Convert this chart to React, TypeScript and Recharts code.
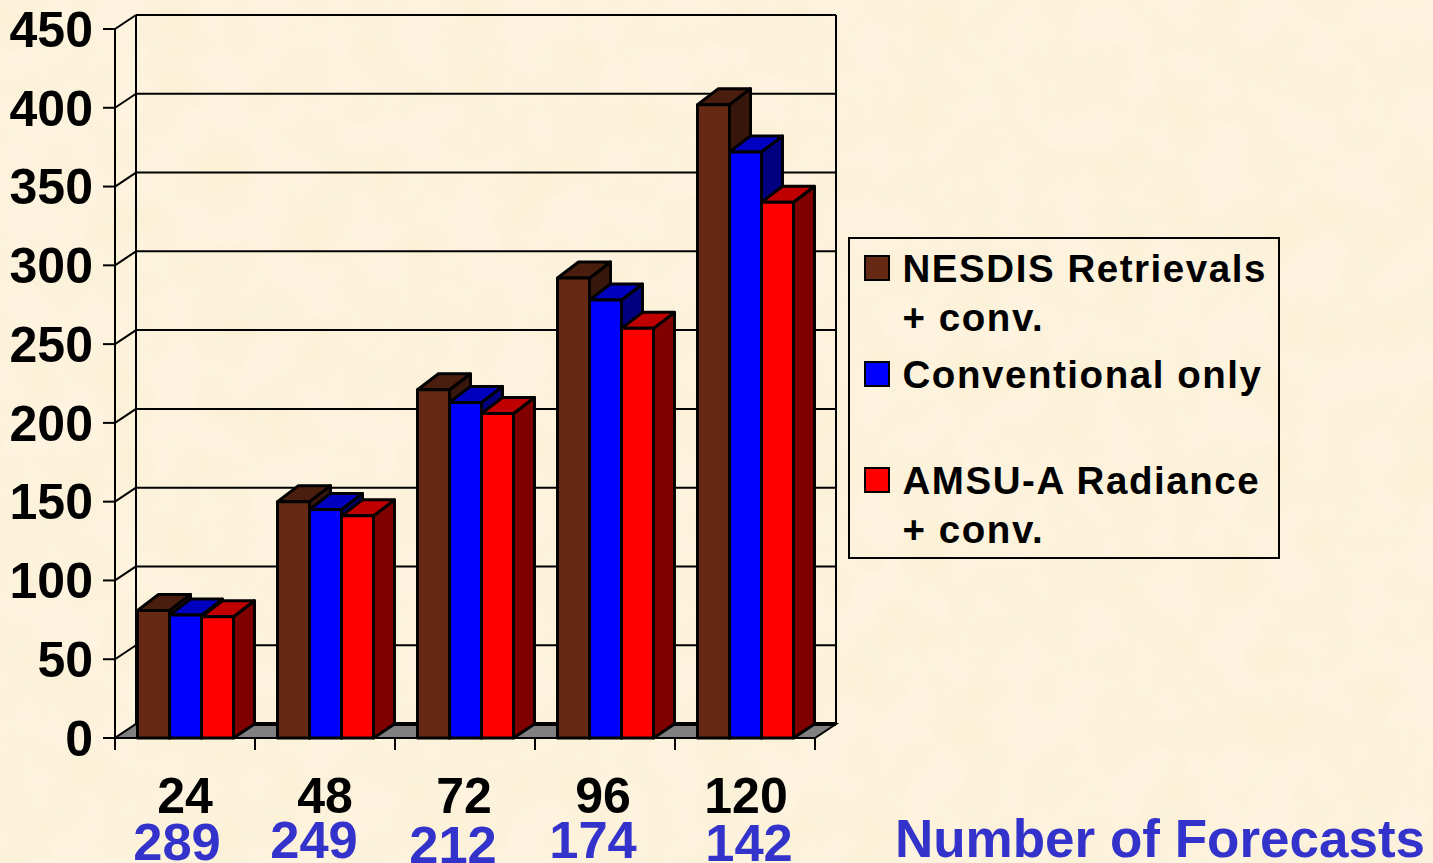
import { BarChart, Bar, XAxis, YAxis, CartesianGrid, Legend, ReferenceLine } from 'recharts';

const hours = ['24', '48', '72', '96', '120'];
const forecastCounts = ['289', '249', '212', '174', '142'];
const nesdis = [81, 150, 221, 292, 402];
const conventional = [78, 145, 213, 278, 372];
const amsu = [77, 141, 206, 260, 340];
const yTicks = [0, 50, 100, 150, 200, 250, 300, 350, 400, 450];

const chartData = hours.map((hour, i) => ({
  hour,
  nesdis: nesdis[i],
  conventional: conventional[i],
  amsu: amsu[i],
}));

const legendRows = [
  { lines: ['NESDIS Retrievals', '+ conv.'], color: '#662A14' },
  { lines: ['Conventional only', '\u00A0'], color: '#0000FF' },
  { lines: ['AMSU-A Radiance', '+ conv.'], color: '#FF0000' },
];

// hand nudges for the x labels, they are not evenly placed in the slide
const hourNudge = [0, 0, -1, -2, 1];
const countNudge = [
  { dx: -8, dy: 0 },
  { dx: -11, dy: -2 },
  { dx: -12, dy: 3 },
  { dx: -12, dy: -2 },
  { dx: 4, dy: 1 },
];

const FONT = '"Liberation Sans", Arial, sans-serif';
const DEPTH_X = 21;
const DEPTH_Y = 14;
const BAR_TOP_DEPTH_Y = 16;
const WALL_HEIGHT = 709;
const CATEGORY_WIDTH = 140;

const makeBarShape = (topColor: string, sideColor: string) => (props: any) => {
  const { x, y, width, height, fill } = props;
  const r = x + width;
  const b = y + height;
  const topY = y - BAR_TOP_DEPTH_Y;
  return (
    <g stroke="#000" strokeWidth={3} strokeLinejoin="round">
      <polygon
        points={`${r},${y} ${r + DEPTH_X},${topY} ${r + DEPTH_X},${b - DEPTH_Y} ${r},${b}`}
        fill={sideColor}
      />
      <polygon
        points={`${x},${y} ${x + DEPTH_X},${topY} ${r + DEPTH_X},${topY} ${r},${y}`}
        fill={topColor}
      />
      <rect x={x} y={y} width={width} height={height} fill={fill} />
    </g>
  );
};

const GridLine = (props: any) => {
  const { x1, x2, y1 } = props;
  return (
    <g stroke="#000" strokeWidth={2}>
      <line x1={x1} y1={y1} x2={x1 + DEPTH_X} y2={y1 - DEPTH_Y} />
      <line x1={x1 + DEPTH_X} y1={y1 - DEPTH_Y} x2={x2 + DEPTH_X} y2={y1 - DEPTH_Y} />
    </g>
  );
};

const WallFrame = (props: any) => {
  const { x1, x2, y1 } = props;
  const backY = y1 - DEPTH_Y;
  return (
    <g>
      <polygon
        points={`${x1},${y1} ${x1 + DEPTH_X},${backY} ${x2 + DEPTH_X},${backY} ${x2},${y1}`}
        fill="#808080"
        stroke="#000"
        strokeWidth={2}
      />
      <line x1={x1 + DEPTH_X} y1={backY} x2={x2 + DEPTH_X} y2={backY} stroke="#000" strokeWidth={4} />
      <line x1={x1 + DEPTH_X} y1={backY} x2={x1 + DEPTH_X} y2={backY - WALL_HEIGHT} stroke="#000" strokeWidth={2} />
      <line x1={x2 + DEPTH_X} y1={backY} x2={x2 + DEPTH_X} y2={backY - WALL_HEIGHT} stroke="#000" strokeWidth={2} />
    </g>
  );
};

const HourTick = (props: any) => {
  const { x, y, index, payload } = props;
  const nudge = countNudge[index];
  const left = x - CATEGORY_WIDTH / 2;
  return (
    <g fontFamily={FONT} fontWeight={700} textAnchor="middle">
      {/* tick marks sit between the categories */}
      <line x1={left} y1={y - 12} x2={left} y2={y} stroke="#000" strokeWidth={2} />
      {index === hours.length - 1 && (
        <line x1={left + CATEGORY_WIDTH} y1={y - 12} x2={left + CATEGORY_WIDTH} y2={y} stroke="#000" strokeWidth={2} />
      )}
      <text x={x + hourNudge[index]} y={y + 63} fill="#000" fontSize={50}>
        {payload.value}
      </text>
      <text x={x + nudge.dx} y={y + 110 + nudge.dy} fill="#3333CC" fontSize={52.5}>
        {forecastCounts[index]}
      </text>
    </g>
  );
};

const LegendBox = () => (
  <div
    style={{
      boxSizing: 'border-box',
      width: 432,
      height: 322,
      border: '2px solid #000',
      paddingTop: 5,
      fontFamily: FONT,
      fontWeight: 700,
      fontSize: 38.5,
      letterSpacing: 1.55,
      color: '#000',
    }}
  >
    {legendRows.map((row) => (
      <div key={row.lines[0]} style={{ position: 'relative', height: 106, paddingLeft: 52.5 }}>
        <span
          style={{
            position: 'absolute',
            left: 14,
            top: 11,
            width: 26,
            height: 26,
            boxSizing: 'border-box',
            border: '2px solid #000',
            background: row.color,
          }}
        />
        {row.lines.map((line, i) => (
          <div key={i} style={{ lineHeight: '49px', whiteSpace: 'nowrap' }}>
            {line}
          </div>
        ))}
      </div>
    ))}
  </div>
);

export default function App() {
  return (
    <div style={{ position: 'absolute', left: 0, top: 0, width: 1433, height: 863, overflow: 'hidden', background: '#FDF3DE' }}>
      {/* parchment slide background */}
      <svg width={1433} height={863} style={{ position: 'absolute', left: 0, top: 0 }}>
        <filter id="parchment" x="0" y="0" width="100%" height="100%">
          <feTurbulence type="fractalNoise" baseFrequency="0.02" numOctaves={3} seed={4} />
          <feColorMatrix
            type="matrix"
            values="0 0 0 0 0.96  0 0 0 0 0.88  0 0 0 0 0.68  2.6 0 0 0 -1.0"
          />
        </filter>
        <rect width={1433} height={863} filter="url(#parchment)" />
      </svg>
      <div style={{ position: 'absolute', left: 0, top: 0 }}>
        <BarChart
          width={1433}
          height={863}
          data={chartData}
          margin={{ top: 29, right: 618, bottom: 0, left: 0 }}
          barCategoryGap={22.5}
          barGap={0}
        >
          <CartesianGrid vertical={false} horizontal={(p: any) => <GridLine key={p.key} {...p} />} />
          <ReferenceLine y={0} shape={(p: any) => <WallFrame {...p} />} zIndex={-50} />
          <XAxis
            dataKey="hour"
            height={125}
            interval={0}
            tickSize={12}
            tickMargin={0}
            tick={(p: any) => <HourTick {...p} />}
            tickLine={false}
            axisLine={{ stroke: '#000', strokeWidth: 2 }}
          />
          <YAxis
            width={115}
            domain={[0, 450]}
            ticks={yTicks}
            interval={0}
            tickSize={12}
            tickMargin={10}
            tick={{ fill: '#000', fontSize: 50, fontWeight: 700, fontFamily: FONT }}
            axisLine={{ stroke: '#000', strokeWidth: 2 }}
            tickLine={{ stroke: '#000', strokeWidth: 2 }}
          />
          <Legend
            layout="horizontal"
            verticalAlign="middle"
            content={<LegendBox />}
            wrapperStyle={{ position: 'absolute', left: 848, top: 237, width: 432, height: 322 }}
          />
          <Bar dataKey="nesdis" fill="#662A14" isAnimationActive={false} shape={makeBarShape('#4A1E0E', '#37170B')} />
          <Bar dataKey="conventional" fill="#0000FF" isAnimationActive={false} shape={makeBarShape('#0000C0', '#000080')} />
          <Bar dataKey="amsu" fill="#FF0000" isAnimationActive={false} shape={makeBarShape('#C00000', '#800000')} />
          <text x={1160} y={857} textAnchor="middle" fontFamily={FONT} fontWeight={700} fontSize={53} fill="#3333CC">
            Number of Forecasts
          </text>
        </BarChart>
      </div>
    </div>
  );
}
